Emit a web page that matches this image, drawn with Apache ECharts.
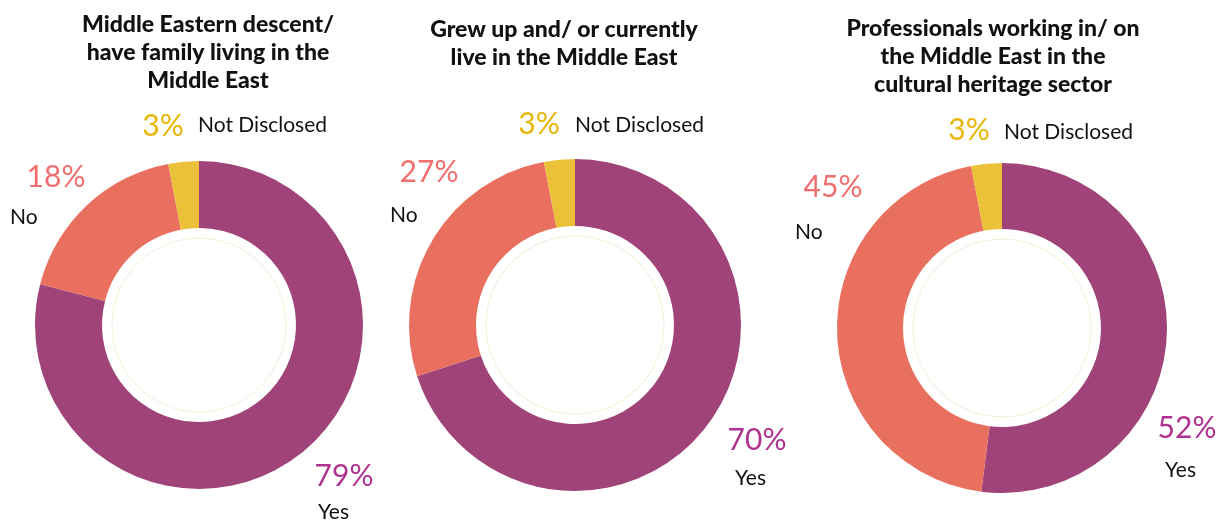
<!DOCTYPE html>
<html>
<head>
<meta charset="utf-8">
<style>
  html, body { margin: 0; padding: 0; background: #ffffff; }
  #chart { width: 1222px; height: 520px; }
</style>
<script src="https://cdn.jsdelivr.net/npm/echarts@6/dist/echarts.min.js"></script>
</head>
<body>
<div id="chart"></div>
<script>
// Survey answers, in percent, for each of the three questions
const categories = ['Yes', 'No', 'Not Disclosed'];
const descentValues = [79, 18, 3];
const grewUpValues = [70, 27, 3];
const professionalValues = [52, 45, 3];

const chartTitles = [
  'Middle Eastern descent/\nhave family living in the\nMiddle East',
  'Grew up and/ or currently\nlive in the Middle East',
  'Professionals working in/ on\nthe Middle East in the\ncultural heritage sector'
];

// Layout: donut centres and radii, title anchors, label anchors (per slice: Yes, No, Not Disclosed)
const layout = [
  {
    center: [199, 325], radius: [97, 164], title: [208, 11],
    pct: [[344, 476], [56, 177], [163, 126]],
    name: [[318, 512], [10, 217], [198, 125]]
  },
  {
    center: [575, 325], radius: [99, 166], title: [564, 16],
    pct: [[757, 440], [429, 172], [539, 124]],
    name: [[735, 478], [390, 215], [575, 125]]
  },
  {
    center: [1002, 328], radius: [99, 165], title: [993, 15],
    pct: [[1187, 428], [833, 187], [969, 130]],
    name: [[1165, 470], [795, 232], [1004, 132]]
  }
];

const sliceColors = ['#a04379', '#e9705f', '#ecc13a'];
const pctColors = ['#b0318f', '#f26d6d', '#e8b606'];
const datasets = [descentValues, grewUpValues, professionalValues];

const series = [];
const graphics = [];

datasets.forEach(function (values, ci) {
  const L = layout[ci];
  // main donut
  series.push({
    type: 'pie',
    center: L.center,
    radius: L.radius,
    startAngle: 90,
    clockwise: true,
    silent: true,
    avoidLabelOverlap: false,
    itemStyle: { borderWidth: 0 },
    label: {
      show: true,
      position: 'outside',
      formatter: function (p) { return p.value + '%'; },
      fontFamily: 'Lato',
      fontSize: 30,
      color: 'inherit'
    },
    labelLine: { show: false },
    labelLayout: function (p) {
      const pos = L.pct[p.dataIndex];
      return { x: pos[0], y: pos[1], align: 'center', verticalAlign: 'middle' };
    },
    data: values.map(function (v, i) {
      return {
        name: categories[i],
        value: v,
        itemStyle: { color: sliceColors[i] },
        label: { color: pctColors[i] }
      };
    })
  });
  // faint ring inside the hole
  series.push({
    type: 'pie',
    center: L.center,
    radius: [L.radius[0] - 10.5, L.radius[0] - 9.5],
    silent: true,
    label: { show: false },
    labelLine: { show: false },
    itemStyle: { color: '#f5eed8' },
    data: [{ value: 1, name: 'ring' }]
  });

  graphics.push({
    type: 'text',
    x: L.title[0],
    y: L.title[1],
    style: {
      text: chartTitles[ci],
      align: 'center',
      verticalAlign: 'top',
      fontFamily: 'Lato',
      fontWeight: 900,
      fontSize: 23,
      lineHeight: 28,
      fill: '#111111'
    }
  });

  categories.forEach(function (name, i) {
    graphics.push({
      type: 'text',
      x: L.name[i][0],
      y: L.name[i][1],
      style: {
        text: name,
        align: 'left',
        verticalAlign: 'middle',
        fontFamily: 'Lato',
        fontSize: 21,
        fill: '#111111'
      }
    });
  });
});

const chart = echarts.init(document.getElementById('chart'), null, { renderer: 'canvas' });
chart.setOption({
  backgroundColor: '#ffffff',
  animation: false,
  series: series,
  graphic: graphics
});
</script>
</body>
</html>
